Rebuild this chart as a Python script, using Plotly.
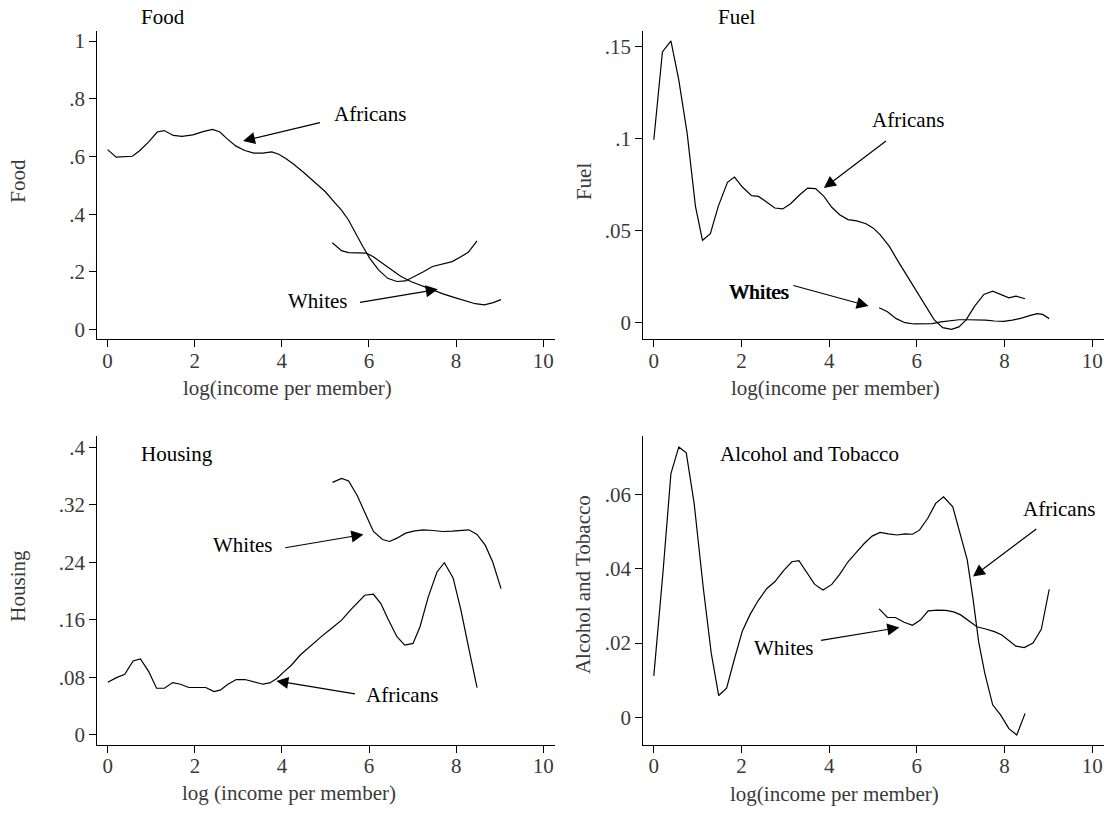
import plotly.graph_objects as go

W, H = 1107, 814

# ---------------- data ----------------
food_afr_x = [0, 0.2, 0.57, 0.73, 0.94, 1.14, 1.30, 1.51, 1.71, 1.96, 2.21, 2.41, 2.58, 2.74, 2.95, 3.15, 3.36, 3.56, 3.77, 3.93, 4.09, 4.26, 4.51, 4.75, 5.00, 5.20, 5.37, 5.53, 5.69, 5.86, 6.02, 6.22, 6.43, 6.64, 6.84, 7.05, 7.25, 7.46, 7.70, 7.91, 8.11, 8.28, 8.48]
food_afr_y = [0.624, 0.598, 0.601, 0.619, 0.650, 0.685, 0.690, 0.673, 0.670, 0.675, 0.687, 0.694, 0.685, 0.662, 0.636, 0.621, 0.612, 0.612, 0.616, 0.608, 0.593, 0.575, 0.544, 0.512, 0.478, 0.443, 0.414, 0.380, 0.334, 0.288, 0.247, 0.207, 0.178, 0.167, 0.169, 0.184, 0.201, 0.219, 0.228, 0.236, 0.253, 0.268, 0.308]
food_wht_x = [5.16, 5.37, 5.53, 5.73, 5.94, 6.10, 6.31, 6.51, 6.72, 6.96, 7.21, 7.46, 7.70, 7.95, 8.20, 8.44, 8.65, 8.85, 9.03]
food_wht_y = [0.301, 0.274, 0.267, 0.267, 0.265, 0.253, 0.230, 0.207, 0.186, 0.167, 0.152, 0.138, 0.124, 0.112, 0.100, 0.090, 0.086, 0.094, 0.104]

fuel_afr_x = [0, 0.196, 0.39, 0.57, 0.76, 0.95, 1.11, 1.29, 1.47, 1.68, 1.84, 2.02, 2.23, 2.39, 2.58, 2.76, 2.94, 3.12, 3.33, 3.51, 3.69, 3.88, 4.06, 4.24, 4.43, 4.63, 4.84, 5.00, 5.16, 5.37, 5.57, 5.77, 5.98, 6.18, 6.39, 6.59, 6.79, 6.96, 7.12, 7.32, 7.53, 7.73, 7.91, 8.10, 8.26, 8.47]
fuel_afr_y = [0.0992, 0.1469, 0.1529, 0.1316, 0.1028, 0.0631, 0.0447, 0.0483, 0.0631, 0.0761, 0.0790, 0.0736, 0.0689, 0.0685, 0.0653, 0.0622, 0.0617, 0.0645, 0.0694, 0.0730, 0.0727, 0.0685, 0.0626, 0.0586, 0.0559, 0.0552, 0.0537, 0.0514, 0.0478, 0.0415, 0.0334, 0.0256, 0.0180, 0.0099, 0.0018, -0.0027, -0.0036, -0.0023, 0.0014, 0.0090, 0.0153, 0.0171, 0.0153, 0.0135, 0.0144, 0.0130]
fuel_wht_x = [5.14, 5.33, 5.53, 5.73, 5.94, 6.14, 6.35, 6.55, 6.75, 6.96, 7.16, 7.37, 7.57, 7.77, 7.98, 8.18, 8.39, 8.59, 8.75, 8.87, 9.02]
fuel_wht_y = [0.0081, 0.0059, 0.0022, 0.0, -0.0007, -0.0007, -0.0005, 0.0004, 0.0011, 0.0016, 0.0016, 0.0016, 0.0014, 0.0009, 0.0007, 0.0014, 0.0025, 0.0040, 0.0049, 0.0045, 0.0022]

hous_afr_x = [0, 0.2, 0.39, 0.58, 0.75, 0.94, 1.12, 1.30, 1.49, 1.67, 1.86, 2.06, 2.25, 2.44, 2.58, 2.76, 2.95, 3.15, 3.36, 3.56, 3.72, 3.89, 4.05, 4.22, 4.42, 4.67, 4.91, 5.12, 5.37, 5.57, 5.73, 5.90, 6.10, 6.27, 6.43, 6.64, 6.82, 7.01, 7.17, 7.36, 7.56, 7.73, 7.93, 8.11, 8.29, 8.48]
hous_afr_y = [0.0731, 0.0795, 0.0842, 0.1027, 0.1054, 0.0879, 0.0647, 0.0647, 0.0726, 0.0703, 0.0657, 0.0657, 0.0657, 0.0601, 0.0620, 0.0703, 0.0768, 0.0768, 0.0731, 0.0703, 0.0721, 0.0786, 0.0879, 0.0971, 0.1110, 0.1248, 0.1369, 0.1471, 0.1595, 0.1734, 0.1840, 0.1942, 0.1956, 0.1827, 0.1618, 0.1364, 0.1248, 0.1272, 0.1503, 0.1919, 0.2266, 0.2395, 0.2183, 0.1734, 0.1202, 0.0657]
hous_wht_x = [5.16, 5.37, 5.53, 5.73, 5.90, 6.10, 6.31, 6.47, 6.64, 6.84, 7.05, 7.25, 7.46, 7.70, 7.91, 8.11, 8.29, 8.48, 8.67, 8.84, 9.03]
hous_wht_y = [0.3514, 0.3570, 0.3533, 0.3329, 0.3098, 0.2830, 0.2719, 0.2691, 0.2737, 0.2807, 0.2839, 0.2853, 0.2844, 0.2830, 0.2835, 0.2848, 0.2853, 0.2788, 0.2636, 0.2404, 0.2035]

alc_afr_x = [0, 0.21, 0.39, 0.57, 0.74, 0.92, 1.13, 1.31, 1.48, 1.66, 1.84, 2.02, 2.20, 2.39, 2.58, 2.76, 2.96, 3.15, 3.31, 3.49, 3.67, 3.86, 4.06, 4.24, 4.43, 4.62, 4.80, 4.98, 5.16, 5.35, 5.55, 5.73, 5.90, 6.06, 6.25, 6.43, 6.61, 6.82, 6.98, 7.15, 7.28, 7.41, 7.55, 7.73, 7.91, 8.10, 8.28, 8.47]
alc_afr_y = [0.0112, 0.0392, 0.0656, 0.0728, 0.0712, 0.0576, 0.0347, 0.0173, 0.0059, 0.0079, 0.0158, 0.0233, 0.0278, 0.0316, 0.0347, 0.0365, 0.0395, 0.0419, 0.0422, 0.0390, 0.0358, 0.0343, 0.0358, 0.0385, 0.0419, 0.0444, 0.0468, 0.0488, 0.0498, 0.0494, 0.0491, 0.0494, 0.0493, 0.0504, 0.0536, 0.0576, 0.0594, 0.0567, 0.0501, 0.0424, 0.0321, 0.0204, 0.0119, 0.0034, 0.0007, -0.0030, -0.0047, 0.0011]
alc_wht_x = [5.14, 5.33, 5.51, 5.71, 5.90, 6.08, 6.26, 6.47, 6.66, 6.84, 7.00, 7.18, 7.37, 7.57, 7.77, 7.94, 8.10, 8.26, 8.45, 8.65, 8.84, 9.02]
alc_wht_y = [0.0292, 0.0269, 0.0269, 0.0256, 0.0248, 0.0262, 0.0287, 0.0289, 0.0288, 0.0284, 0.0276, 0.0260, 0.0244, 0.0238, 0.0231, 0.0222, 0.0206, 0.0192, 0.0188, 0.0200, 0.0237, 0.0345]

x_ticks = [0, 2, 4, 6, 8, 10]
food_ticks = [0, 0.2, 0.4, 0.6, 0.8, 1]
food_labels = ["0", ".2", ".4", ".6", ".8", "1"]
fuel_ticks = [0, 0.05, 0.1, 0.15]
fuel_labels = ["0", ".05", ".1", ".15"]
hous_ticks = [0, 0.08, 0.16, 0.24, 0.32, 0.4]
hous_labels = ["0", ".08", ".16", ".24", ".32", ".4"]
alc_ticks = [0, 0.02, 0.04, 0.06]
alc_labels = ["0", ".02", ".04", ".06"]

# ---------------- style ----------------
FONT = "Liberation Serif, Times New Roman, serif"
GREY = "#3a3a3a"
FS = 21

def px_x(a, b):
    return [a / W, b / W]

def px_y(top, bottom):
    return [1 - bottom / H, 1 - top / H]

fig = go.Figure()

panels = [
    ("x", "y", food_afr_x, food_afr_y, food_wht_x, food_wht_y),
    ("x2", "y2", fuel_afr_x, fuel_afr_y, fuel_wht_x, fuel_wht_y),
    ("x3", "y3", hous_afr_x, hous_afr_y, hous_wht_x, hous_wht_y),
    ("x4", "y4", alc_afr_x, alc_afr_y, alc_wht_x, alc_wht_y),
]
for xa, ya, ax_, ay_, wx, wy in panels:
    fig.add_trace(go.Scatter(x=ax_, y=ay_, mode="lines", xaxis=xa, yaxis=ya,
                             line=dict(color="black", width=1.2), showlegend=False, hoverinfo="skip"))
    fig.add_trace(go.Scatter(x=wx, y=wy, mode="lines", xaxis=xa, yaxis=ya,
                             line=dict(color="black", width=1.2), showlegend=False, hoverinfo="skip"))

def xaxis(dom, rng, anchor):
    return dict(domain=dom, range=rng, anchor=anchor, tickvals=x_ticks, ticktext=[str(v) for v in x_ticks],
                showline=True, linecolor="black", linewidth=1.3, ticks="outside", ticklen=7,
                tickwidth=1.2, tickcolor="black", showgrid=False, zeroline=False,
                ticklabelstandoff=-5,
                tickfont=dict(family=FONT, size=FS, color=GREY))

def yaxis(dom, rng, anchor, tv, tt):
    return dict(domain=dom, range=rng, anchor=anchor, tickvals=tv, ticktext=tt,
                showline=True, linecolor="black", linewidth=1.3, ticks="outside", ticklen=7,
                tickwidth=1.2, tickcolor="black", showgrid=False, zeroline=False,
                tickfont=dict(family=FONT, size=FS, color=GREY))

L1, R1 = 97.3, 555
L2, R2 = 643.3, 1104
T1, B1 = 30, 340
T2, B2 = 437.3, 747.7

fig.update_layout(
    width=W, height=H,
    margin=dict(l=0, r=0, t=0, b=0),
    paper_bgcolor="white", plot_bgcolor="white",
    font=dict(family=FONT, size=FS, color="black"),
    xaxis=xaxis(px_x(L1, R1), [-0.234, 10.27], "y"),
    yaxis=yaxis(px_y(T1, B1), [-0.0334, 1.0355], "x", food_ticks, food_labels),
    xaxis2=xaxis(px_x(L2, R2), [-0.24, 10.27], "y2"),
    yaxis2=yaxis(px_y(T1, B1), [-0.00903, 0.1583], "x2", fuel_ticks, fuel_labels),
    xaxis3=xaxis(px_x(L1, R1), [-0.241, 10.27], "y3"),
    yaxis3=yaxis(px_y(T2, B2), [-0.0144, 0.4158], "x3", hous_ticks, hous_labels),
    xaxis4=xaxis(px_x(L2, R2), [-0.24, 10.27], "y4"),
    yaxis4=yaxis(px_y(T2, B2), [-0.00742, 0.0757], "x4", alc_ticks, alc_labels),
)

ann = []

def text_data(t, x, y, xr, yr, color="black"):
    ann.append(dict(text=t, x=x, y=y, xref=xr, yref=yr, xanchor="left", yanchor="middle",
                    showarrow=False, font=dict(family=FONT, size=FS, color=color)))

def arrow(hx, hy, tx, ty, xr, yr):
    ann.append(dict(text="", x=hx, y=hy, ax=tx, ay=ty, xref=xr, yref=yr, axref=xr, ayref=yr,
                    showarrow=True, arrowhead=2, arrowsize=2.0, arrowwidth=1.2, arrowcolor="black",
                    standoff=0, startstandoff=0))

def text_px(t, cx, cy, angle=0, color=GREY):
    ann.append(dict(text=t, x=cx / W, y=1 - cy / H, xref="paper", yref="paper",
                    xanchor="center", yanchor="middle", showarrow=False, textangle=angle,
                    font=dict(family=FONT, size=FS, color=color)))

# Food
text_data("Africans", 5.16, 0.748, "x", "y")
arrow(3.11, 0.654, 4.91, 0.719, "x", "y")
text_data("Whites", 4.09, 0.098, "x", "y")
arrow(7.58, 0.140, 5.76, 0.094, "x", "y")
# Fuel
text_data("Africans", 4.94, 0.110, "x2", "y2")
arrow(3.88, 0.0730, 5.33, 0.0992, "x2", "y2")
text_data("Whites", 1.67, 0.0168, "x2", "y2")
text_data("Whites", 1.682, 0.0168, "x2", "y2")
arrow(4.90, 0.0090, 3.15, 0.0204, "x2", "y2")
# Housing
text_data("Housing", 0.72, 0.391, "x3", "y3")
text_data("Whites", 2.37, 0.2636, "x3", "y3")
arrow(5.87, 0.2788, 4.04, 0.260, "x3", "y3")
text_data("Africans", 5.88, 0.0546, "x3", "y3")
arrow(3.87, 0.0749, 5.71, 0.0564, "x3", "y3")
# Alcohol and Tobacco
text_data("Alcohol and Tobacco", 1.46, 0.0709, "x4", "y4")
text_data("Africans", 8.37, 0.0562, "x4", "y4")
arrow(7.28, 0.0379, 8.76, 0.0510, "x4", "y4")
text_data("Whites", 2.24, 0.0188, "x4", "y4")
arrow(5.60, 0.0242, 3.78, 0.0207, "x4", "y4")

# panel titles (top, outside)
text_px("Food", 162.5, 16, color="black")
text_px("Fuel", 737, 16, color="black")

# axis titles
text_px("log(income per member)", 287.5, 389)
text_px("log(income per member)", 835, 389)
text_px("log (income per member)", 289, 796)
text_px("log(income per member)", 834.5, 797)

text_px("Food", 18.6, 181, angle=-90)
text_px("Fuel", 584, 181, angle=-90)
text_px("Housing", 18.6, 588, angle=-90)
text_px("Alcohol and Tobacco", 583.3, 586.7, angle=-90)

fig.update_layout(annotations=ann)

fig.write_html("out.html",
               config={"displayModeBar": False},
               post_script="document.body.style.margin='0';document.body.style.padding='0';"
                           "document.documentElement.style.overflow='hidden';")
